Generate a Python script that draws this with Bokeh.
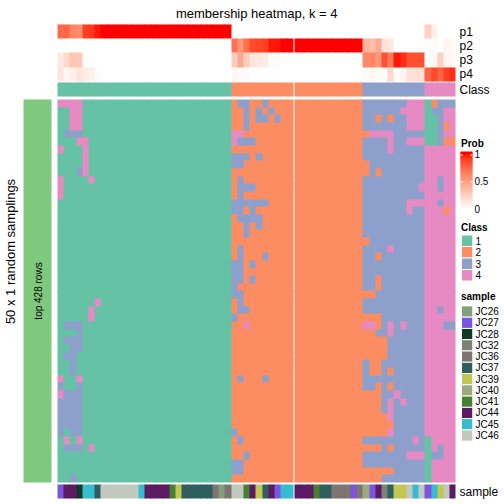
import math
from bokeh.plotting import figure
from bokeh.models import Range1d, ColumnDataSource
from bokeh.embed import file_html
from bokeh.resources import INLINE
from bokeh.core.properties import value

# ---------------- data ----------------
title_text = "membership heatmap, k = 4"
row_title_text = "50 x 1 random samplings"
row_bar_text = "top 428 rows"
prob_names = ["p1", "p2", "p3", "p4"]
class_name = "Class"
sample_name = "sample"
prob_title = "Prob"
prob_ticks = [0.0, 0.5, 1.0]
prob_tick_labels = ["0", "0.5", "1"]

class_levels = ["1", "2", "3", "4"]
class_colors = ["#66C2A5", "#FC8D62", "#8DA0CB", "#E78AC3"]

sample_levels = ["JC26", "JC27", "JC28", "JC32", "JC36", "JC37",
                 "JC39", "JC40", "JC41", "JC44", "JC45", "JC46"]
sample_colors = ["#7FA07A", "#7B54E0", "#0E3B27", "#7B8278", "#7F7570", "#2F5E5E",
                 "#C2C653", "#9CAB7C", "#467F30", "#5B1A62", "#36BBD0", "#C1C8BD"]

# class of each of the 64 columns (split in the chart after the 38th column)
column_class = ("1111111111111111111111111111" "2222222222" "22222222222"
                "3333333333" "44444")

column_sample = ["JC27", "JC44", "JC44", "JC28", "JC45", "JC45", "JC37",
                 "JC46", "JC46", "JC46", "JC46", "JC46", "JC46", "JC45",
                 "JC44", "JC44", "JC44", "JC44", "JC41", "JC39",
                 "JC37", "JC37", "JC37", "JC37", "JC37", "JC36", "JC26", "JC36",
                 "JC46", "JC46", "JC41", "JC44", "JC39", "JC37", "JC44", "JC27",
                 "JC45", "JC45",
                 "JC44", "JC44", "JC44", "JC41", "JC37", "JC37", "JC36", "JC36",
                 "JC36", "JC27", "JC36",
                 "JC40", "JC27", "JC44", "JC32", "JC37", "JC39", "JC39", "JC46",
                 "JC45", "JC46",
                 "JC27", "JC45", "JC39", "JC46", "JC44"]

# class assigned in each of the 50 random samplings (rows) for each column
membership = [
    "4444111111111111111111111111 2332232222 22222222222 3333333444 12333",
    "1144111111111111111111111111 2232323222 22222222222 3333334444 13344",
    "1144111111111111111111111111 2232332322 22222222222 3323233444 11344",
    "1144111111111111111111111111 2232222222 22222222222 3333333444 11324",
    "1333111111111111111111111111 4422222222 22222222222 2444433333 11344",
    "1114411111111111111111111111 4333222222 22222222222 3333433444 11322",
    "4111411111111111111111111111 2222222222 22222222222 3333433333 44444",
    "1111411111111111111111111111 3332322222 22222222222 3333333333 44444",
    "1111411111111111111111111111 3322222222 22222222222 2333333333 44444",
    "1113411111111111111111111111 2222222222 22222222222 2323333333 44444",
    "4111141111111111111111111111 2322222222 22222222222 3333333333 44344",
    "4111111111111111111111111111 2333222222 22222222222 3333333334 44344",
    "4111111111111111111111111111 2322222222 22222222222 3333333333 44444",
    "1111111111111111111111111111 3333332222 22222222222 3333333444 44344",
    "1111111111111111111111111111 3323222222 22222222222 3333333433 44424",
    "1111111111111111111111111111 2333322222 22222222222 3333333333 44444",
    "1111111111111111111111111111 2232322222 22222222222 3333333333 44444",
    "1111111111111111111111111111 2232222222 22222222222 3333333333 44444",
    "1111111111111111111111111111 2222222222 22222222222 2333333333 44444",
    "1111111111111111111111111111 2322222222 22222222222 3333433333 44444",
    "1111111111111111111111111111 2322232222 22222222222 3323333333 44444",
    "1111111111111111111111111111 3323222222 22222222222 3333333333 44444",
    "1111111111111111111111111111 3322222222 22222222222 3333333333 44444",
    "1111111111111111111111111111 3323222222 22222222222 3323333333 44444",
    "1111111111111111111111111111 3222222222 22222222222 3323333333 44444",
    "1111111111111111111111111111 3322222222 22222222222 2233333333 44444",
    "1111114111111111111111111111 2322222222 22222222222 3333333333 44444",
    "1111141111111111111111111111 2332222222 22222222222 3333333333 44344",
    "1111141111111111111111111111 3222222222 22222222222 2223333333 44444",
    "1333111111111111111111111111 2242222222 22222222222 4423434333 44433",
    "1113111111111111111111111111 2222222222 22222222222 2233433333 44444",
    "1333111111111111111111111111 2222222222 22222222222 2222333333 44444",
    "1133111111111111111111111111 2222222222 22222222222 2222333333 44444",
    "1331111111111111111111111111 2222222222 22222222222 2222333333 44444",
    "1131111111111111111111111111 2222222222 22222222222 3223333333 44444",
    "1131111111111111111111111111 2222222222 22222222222 3223233333 44444",
    "4114111111111111111111111111 2322232222 22222222222 3333333333 44444",
    "3113111111111111111111111111 2222222222 22222222222 3323233333 44444",
    "4333111111111111111111111111 2222222222 22222222222 2223343333 44444",
    "3333111111111111111111111111 2222222222 22222222222 2223434333 44444",
    "3333111111111111111111111111 2222222222 22222222222 2223433333 44444",
    "3333111111111111111111111111 2222222222 22222222222 2222433333 44444",
    "3333111111111111111111111111 2222222222 22222222222 2222233333 44444",
    "3133111111111111111111111111 3222222222 22222222222 2222433333 44444",
    "1414111111111111111111111111 2322222222 22222222222 3333333343 14444",
    "1333141111111111111111111111 2222222222 22222222222 2223233333 14344",
    "1111111111111111111111111111 2232222222 22222222222 3333333444 13344",
    "1111111111111111111111111111 3322222222 22222222222 3333333333 14444",
    "1111111111111111111111111111 3322222222 22222222222 2222233333 14444",
    "1131111111111111111111111111 2222222222 22222222222 2223333333 14444",
]

# ---------------- layout (image pixel coordinates) ----------------
PAGE = 504
FONT = "Liberation Sans"

HM_LEFT = 57.0
CELL_W = 6.2
SPLIT_AFTER = 37
SPLIT_GAP = 1.6
HM_TOP = 99.0
CELL_H = 7.66
P_TOP = 24.0
P_H = 14.17
CLASS_TOP = 82.3
CLASS_H = 13.7
SAMPLE_TOP = 484.0
SAMPLE_H = 14.5
BAR_LEFT, BAR_RIGHT = 23.0, 51.0
BAR_COLOR = "#7FC97F"
LABEL_X = 459.0
LEG_BOX_L, LEG_BOX_R = 461.0, 472.3
LEG_TEXT_X = 475.0
OVERLAP = 0.8


def fy(y):
    return PAGE - y


def snap(v):
    return float(round(v))


def col_left(c):
    return HM_LEFT + c * CELL_W + (SPLIT_GAP if c > SPLIT_AFTER else 0.0)


# colour ramp white -> red in LAB space
def _lin(c):
    c = c / 255.0
    return c / 12.92 if c <= 0.04045 else ((c + 0.055) / 1.055) ** 2.4


def _delin(c):
    v = 12.92 * c if c <= 0.0031308 else 1.055 * (c ** (1 / 2.4)) - 0.055
    return max(0, min(255, int(round(v * 255))))


WN = (0.95047, 1.0, 1.08883)


def rgb_to_lab(rgb):
    r, g, b = [_lin(v) for v in rgb]
    X = 0.4124 * r + 0.3576 * g + 0.1805 * b
    Y = 0.2126 * r + 0.7152 * g + 0.0722 * b
    Z = 0.0193 * r + 0.1192 * g + 0.9505 * b
    d = 6 / 29

    def f(t):
        return t ** (1 / 3) if t > d ** 3 else t / (3 * d * d) + 4 / 29
    fx, fyy, fz = f(X / WN[0]), f(Y / WN[1]), f(Z / WN[2])
    return (116 * fyy - 16, 500 * (fx - fyy), 200 * (fyy - fz))


def lab_to_hex(lab):
    L, a, b = lab
    d = 6 / 29
    fyy = (L + 16) / 116
    fx = fyy + a / 500
    fz = fyy - b / 200

    def finv(t):
        return t ** 3 if t > d else 3 * d * d * (t - 4 / 29)
    X, Y, Z = WN[0] * finv(fx), WN[1] * finv(fyy), WN[2] * finv(fz)
    r = 3.2406 * X - 1.5372 * Y - 0.4986 * Z
    g = -0.9689 * X + 1.8758 * Y + 0.0415 * Z
    bb = 0.0557 * X - 0.2040 * Y + 1.0570 * Z
    return "#%02x%02x%02x" % (_delin(r), _delin(g), _delin(bb))


LAB_LO = rgb_to_lab((255, 255, 255))
LAB_HI = rgb_to_lab((255, 0, 0))


def prob_color(v):
    v = max(0.0, min(1.0, v))
    return lab_to_hex(tuple(LAB_LO[i] + (LAB_HI[i] - LAB_LO[i]) * v for i in range(3)))


# ---------------- figure ----------------
p = figure(width=PAGE, height=PAGE, output_backend="svg", toolbar_location=None,
           x_range=Range1d(0, PAGE), y_range=Range1d(0, PAGE),
           min_border=0)
p.axis.visible = False
p.grid.visible = False
p.outline_line_color = None
p.background_fill_color = "white"
p.border_fill_color = "white"

cells = dict(l=[], r=[], t=[], b=[], c=[])


def add_cell(x0, x1, y0, y1, color, ext_r=False, ext_b=False):
    cells["l"].append(snap(x0))
    cells["r"].append(snap(x1) + (OVERLAP if ext_r else 0.0))
    cells["t"].append(fy(snap(y0)))
    cells["b"].append(fy(snap(y1) + (OVERLAP if ext_b else 0.0)))
    cells["c"].append(color)


def right_open(c_end):
    # True when another cell follows directly to the right of column c_end
    return c_end != SPLIT_AFTER and c_end != ncol - 1


rows = [r.replace(" ", "") for r in membership]
ncol = len(column_class)
nrow = len(rows)
cls_color = {k: c for k, c in zip(class_levels, class_colors)}
smp_color = {k: c for k, c in zip(sample_levels, sample_colors)}

# main heatmap: run-length merge per row, broken at the split
for i, row in enumerate(rows):
    y0 = HM_TOP + i * CELL_H
    y1 = y0 + CELL_H
    start = 0
    for c in range(1, ncol + 1):
        if c == ncol or row[c] != row[start] or c == SPLIT_AFTER + 1:
            add_cell(col_left(start), col_left(c - 1) + CELL_W, y0, y1,
                     cls_color[row[start]], right_open(c - 1), i < nrow - 1)
            start = c

# membership probabilities (fraction of samplings giving each class)
for k, lvl in enumerate(class_levels):
    y0 = P_TOP + k * P_H
    for c in range(ncol):
        frac = sum(1 for row in rows if row[c] == lvl) / nrow
        add_cell(col_left(c), col_left(c) + CELL_W, y0, y0 + P_H, prob_color(frac),
                 right_open(c), k < len(class_levels) - 1)

# class annotation and sample annotation
for c in range(ncol):
    add_cell(col_left(c), col_left(c) + CELL_W, CLASS_TOP, CLASS_TOP + CLASS_H,
             cls_color[column_class[c]], right_open(c))
    add_cell(col_left(c), col_left(c) + CELL_W, SAMPLE_TOP, SAMPLE_TOP + SAMPLE_H,
             smp_color[column_sample[c]], right_open(c))

# left bar
add_cell(BAR_LEFT, BAR_RIGHT, HM_TOP, HM_TOP + CELL_H * nrow, BAR_COLOR)

# Prob colour bar (1px slices)
CB_TOP, CB_BOT = 151, 207
V0_Y, V1_Y = 208.0, 153.5
for yy in range(CB_TOP, CB_BOT):
    v = (V0_Y - (yy + 0.5)) / (V0_Y - V1_Y)
    add_cell(460.0, 472.0, yy, yy + 1, prob_color(v), False, yy < CB_BOT - 1)

p.quad(left="l", right="r", top="t", bottom="b", fill_color="c", line_color=None,
       source=ColumnDataSource(cells))

# colour bar tick dashes
for v in prob_ticks[1:]:
    yy = fy(round(V0_Y - v * (V0_Y - V1_Y)) + 0.5)
    p.segment(x0=[460.0, 469.6], x1=[462.4, 472.0], y0=[yy, yy], y1=[yy, yy],
              line_color="white", line_width=1)

# legend boxes
leg = dict(l=[], r=[], t=[], b=[], c=[])
CL_TOP, CL_H = 234.5, 11.5
SM_TOP, SM_H = 305.4, 11.27
for k, col in enumerate(class_colors):
    leg["l"].append(LEG_BOX_L); leg["r"].append(LEG_BOX_R)
    leg["t"].append(fy(CL_TOP + k * CL_H)); leg["b"].append(fy(CL_TOP + (k + 1) * CL_H))
    leg["c"].append(col)
for k, col in enumerate(sample_colors):
    leg["l"].append(LEG_BOX_L); leg["r"].append(LEG_BOX_R)
    leg["t"].append(fy(SM_TOP + k * SM_H)); leg["b"].append(fy(SM_TOP + (k + 1) * SM_H))
    leg["c"].append(col)
p.quad(left="l", right="r", top="t", bottom="b", fill_color="c", line_color="white",
       line_width=1, source=ColumnDataSource(leg))


def txt(x, y, s, size, align="left", baseline="middle", angle=0.0, bold=False):
    p.text(x=[x], y=[fy(y)], text=[s], text_font=value(FONT), text_font_size=size,
           text_align=align, text_baseline=baseline, angle=angle,
           text_font_style="bold" if bold else "normal", text_color="black")


# title and side titles
txt((HM_LEFT + col_left(ncol - 1) + CELL_W) / 2, 12.5, title_text, "13px",
    align="center", baseline="alphabetic")
txt(10.0, 251.0, row_title_text, "13px", align="center", angle=math.pi / 2)
txt((BAR_LEFT + BAR_RIGHT) / 2 + 0.5, HM_TOP + CELL_H * nrow / 2, row_bar_text,
    "10px", align="center", angle=math.pi / 2)

# annotation names
for k, nm in enumerate(prob_names):
    txt(LABEL_X, P_TOP + (k + 0.5) * P_H, nm, "12px")
txt(LABEL_X, CLASS_TOP + CLASS_H / 2, class_name, "12px")
txt(LABEL_X, SAMPLE_TOP + SAMPLE_H / 2, sample_name, "12px")

# legends
txt(460.5, 143.3, prob_title, "10px", bold=True)
for v, lab in zip(prob_ticks, prob_tick_labels):
    txt(LEG_TEXT_X - 1.0, V0_Y - v * (V0_Y - V1_Y), lab, "10px")
txt(460.5, 227.3, class_name, "10px", bold=True)
for k, lab in enumerate(class_levels):
    txt(LEG_TEXT_X, CL_TOP + (k + 0.5) * CL_H, lab, "10px")
txt(460.5, 295.7, sample_name, "10px", bold=True)
for k, lab in enumerate(sample_levels):
    txt(LEG_TEXT_X, SM_TOP + (k + 0.5) * SM_H, lab, "10px")

open("out.html", "w").write(file_html(p, INLINE))
